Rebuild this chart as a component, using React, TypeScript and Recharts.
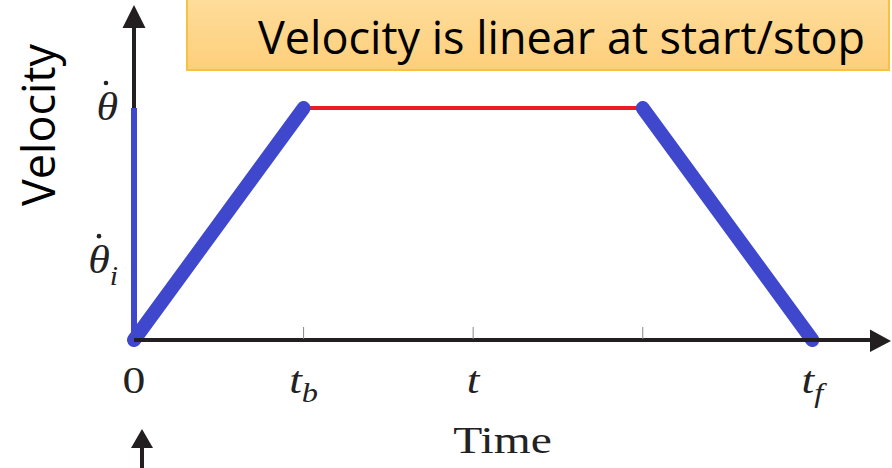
import React from 'react';
import {
  LineChart,
  Line,
  XAxis,
  YAxis,
  ReferenceLine,
  ReferenceDot,
} from 'recharts';

// time axis: 0, t_b, t, (blend end), t_f
const timeTicks = [0, 1, 2, 3, 4];
const timeMain = ['0', 't', 't', '', 't'];
const timeSub = ['', 'b', '', '', 'f'];

// velocity levels: peak (θ̇) and initial (θ̇_i)
const velTicks = [1, 0.34];
const velSub = ['', 'i'];

// trapezoidal profile pieces
const rampUpT = [0, 1];
const rampUpV = [0, 1];
const cruiseT = [1, 3];
const cruiseV = [1, 1];
const rampDownT = [3, 4];
const rampDownV = [1, 0];

const X_MAX = 4.34;
const Y_MAX = 1.345;

const toPoints = (ts: number[], vs: number[]) => ts.map((t, i) => ({ t, v: vs[i] }));

const BLUE = '#3f48cc';
const RED = '#ed1c24';
const INK = '#231f20';
const SERIF = '"Liberation Serif", "DejaVu Serif", serif';
const SANS = '"Open Sans", "Noto Sans", sans-serif';

const TimeTick = (props: any) => {
  const { x, y, payload } = props;
  const i = timeTicks.indexOf(payload.value);
  const main = timeMain[i];
  const sub = timeSub[i];
  const italic = main !== '0';
  return (
    <g>
      {i > 0 && i < 4 && (
        <line x1={x} y1={y - 13} x2={x} y2={y - 1} stroke="#888" strokeWidth={1} />
      )}
      {main && (
        <g transform={`translate(${x},${y + 53}) scale(1.2,1)`}>
          <text textAnchor="middle" fontFamily={SERIF} fontSize={38} fill="#222">
            <tspan fontStyle={italic ? 'italic' : 'normal'}>{main}</tspan>
            {sub && (
              <tspan fontStyle="italic" fontSize={27} dy={9}>
                {sub}
              </tspan>
            )}
          </text>
        </g>
      )}
      {i === 0 && (
        <g fill={INK} stroke={INK}>
          <line x1={x + 8} y1={y + 105} x2={x + 8} y2={y + 130} strokeWidth={4} />
          <path d={`M${x + 8},${y + 89} L${x + 19},${y + 108} L${x - 3},${y + 108} Z`} stroke="none" />
        </g>
      )}
    </g>
  );
};

const VelTick = (props: any) => {
  const { x, y, payload } = props;
  const i = velTicks.indexOf(payload.value);
  const sub = velSub[i];
  const right = x - 16;
  const dotX = sub ? right - 19 : right - 12;
  return (
    <g>
      <g transform={`translate(${right},${y + 12}) scale(1.1,1)`}>
        <text textAnchor="end" fontFamily={SERIF} fontSize={40} fontStyle="italic" fill="#222">
          θ
          {sub && (
            <tspan fontSize={27} dy={12}>
              {sub}
            </tspan>
          )}
        </text>
      </g>
      <circle cx={dotX} cy={y - 25} r={2.3} fill="#222" />
    </g>
  );
};

const UpArrow = (props: any) => {
  const { cx, cy } = props;
  return <path d={`M${cx},${cy - 23} L${cx + 11.5},${cy} L${cx - 11.5},${cy} Z`} fill={INK} />;
};

const RightArrow = (props: any) => {
  const { cx, cy } = props;
  return <path d={`M${cx + 21},${cy + 1} L${cx},${cy - 10.5} L${cx},${cy + 12} Z`} fill={INK} />;
};

const VelocityLabel = () => (
  <text
    transform="translate(55,125) rotate(-90)"
    textAnchor="middle"
    fontFamily={SANS}
    fontSize={45}
    fill="#000"
  >
    Velocity
  </text>
);

export default function App() {
  return (
    <div style={{ position: 'absolute', left: 0, top: 0, width: 892, height: 468, background: '#fff' }}>
      <LineChart
        width={892}
        height={468}
        margin={{ top: 28, right: 22, bottom: 0, left: 0 }}
      >
        <XAxis
          type="number"
          dataKey="t"
          domain={[0, X_MAX]}
          ticks={timeTicks}
          interval={0}
          height={128}
          tickSize={0}
          tickMargin={0}
          tickLine={false}
          axisLine={{ stroke: INK, strokeWidth: 4 }}
          tick={<TimeTick />}
          label={{
            value: 'Time',
            position: 'insideBottom',
            offset: 15,
            fontFamily: SERIF,
            fontSize: 38,
            fill: '#222',
            transform: 'translate(-125, 0) scale(1.25, 1)',
          }}
        />
        <YAxis
          type="number"
          dataKey="v"
          domain={[0, Y_MAX]}
          ticks={velTicks}
          interval={0}
          width={134}
          tickSize={0}
          tickMargin={0}
          tickLine={false}
          axisLine={false}
          tick={<VelTick />}
          label={{ content: () => <VelocityLabel /> }}
        />
        {/* vertical axis drawn as a segment so the blue jump can sit over it */}
        <ReferenceLine
          segment={[
            { x: 0, y: 0 },
            { x: 0, y: Y_MAX },
          ]}
          stroke={INK}
          strokeWidth={4}
        />
        <ReferenceDot x={0} y={Y_MAX} r={0} shape={<UpArrow />} />
        <ReferenceDot x={X_MAX} y={0} r={0} shape={<RightArrow />} />
        <ReferenceLine
          segment={[
            { x: 0, y: 0 },
            { x: 0, y: 1 },
          ]}
          stroke={BLUE}
          strokeWidth={6}
        />
        <Line
          data={toPoints(cruiseT, cruiseV)}
          dataKey="v"
          stroke={RED}
          strokeWidth={4}
          dot={false}
          activeDot={false}
          isAnimationActive={false}
        />
        <Line
          data={toPoints(rampUpT, rampUpV)}
          dataKey="v"
          stroke={BLUE}
          strokeWidth={14}
          strokeLinecap="round"
          dot={false}
          activeDot={false}
          isAnimationActive={false}
        />
        <Line
          data={toPoints(rampDownT, rampDownV)}
          dataKey="v"
          stroke={BLUE}
          strokeWidth={14}
          strokeLinecap="round"
          dot={false}
          activeDot={false}
          isAnimationActive={false}
        />
      </LineChart>
      <div
        style={{
          position: 'absolute',
          left: 186,
          top: -2,
          width: 704,
          height: 73,
          boxSizing: 'border-box',
          border: '2px solid #f7c23f',
          background: 'linear-gradient(#fedc9a, #fdcf7b)',
          fontFamily: SANS,
          fontSize: 45,
          lineHeight: '73px',
          paddingLeft: 70,
          color: '#000',
          whiteSpace: 'nowrap',
        }}
      >
        Velocity is linear at start/stop
      </div>
    </div>
  );
}
